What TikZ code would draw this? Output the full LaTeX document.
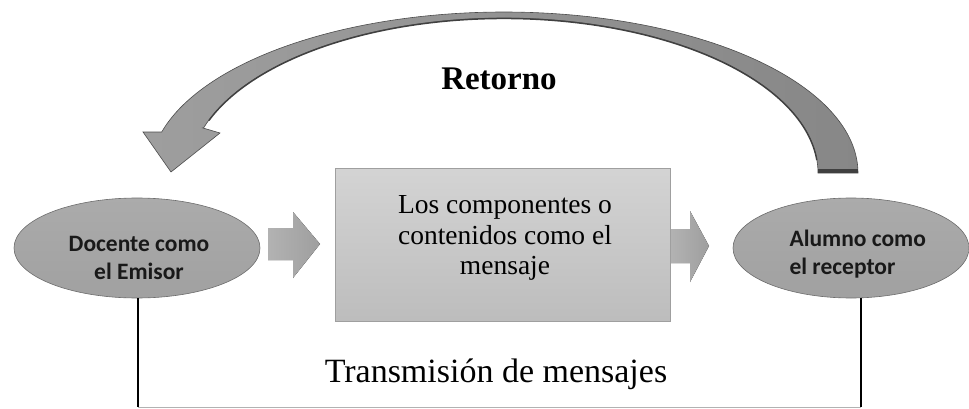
\documentclass[tikz,border=0pt]{standalone}
\usepackage{fontspec}
\setmainfont{Liberation Serif}
\newfontfamily\carlito{Carlito}
\usetikzlibrary{shapes.geometric,calc}
\begin{document}
\begin{tikzpicture}[x=1pt,y=-1pt,
  ellnode/.style={ellipse, draw=gray!85!black, line width=0.6pt, top color=gray!66, bottom color=gray!74, inner sep=0pt},
  ellfont/.style={font=\carlito\bfseries\fontsize{23.5}{28}\selectfont, text=black!90},
  msgbox/.style={rectangle, draw=gray!75, line width=0.8pt, top color=gray!34, bottom color=gray!52, inner sep=0pt},
  blockarrow/.style={left color=gray!60, right color=gray!76, draw=none},
  vline/.style={black, line width=2pt},
  hline/.style={gray!60, line width=1pt}
]
\useasboundingbox (0,0) rectangle (969,409);

% nodes
\node[ellnode, minimum width=246pt, minimum height=100pt] (emisor) at (137,248) {};
\node[ellfont, align=center] (emisorlbl) at (139,258) {Docente como\\el Emisor};
\node[ellnode, minimum width=236pt, minimum height=100pt] (receptor) at (851,248) {};
\node[ellfont, align=left, anchor=west] (receptorlbl) at (786,254) {Alumno como\\el receptor};
\node[msgbox, minimum width=335pt, minimum height=153pt] (msg) at (502.5,244.5) {};
\node[align=center, font=\fontsize{27.5}{30.5}\selectfont] (msglbl) at (505,238) {Los componentes o\\contenidos como el\\mensaje};

% block arrows
\fill[blockarrow] (268,228) -- (293,228) -- (293,212) -- (320,244) -- (293,278) -- (293,260) -- (268,260) -- cycle;
\fill[blockarrow] (671,229) -- (690,229) -- (690,211) -- (709,246) -- (690,282) -- (690,263) -- (671,263) -- cycle;

% curved return arrow
\path[left color=gray!76, right color=gray!94, draw=gray!60!black, line width=0.6pt]
  plot[domain=0:165.25, samples=90, smooth] ({504+354*cos(\x)},{173-161*sin(\x)})
  -- (143,132) -- (171,172) -- (220,133) -- (203,128)
  -- plot[domain=163.1:0, samples=90, smooth] ({504+314*cos(\x)},{173-155*sin(\x)})
  -- cycle;
\draw[gray!50!black, line width=1.4pt]
  plot[domain=160:5, samples=80, smooth] ({504+314*cos(\x)},{173.5-155*sin(\x)});
\fill[gray!50!black] (818,169) rectangle (858,173);

\node[font=\bfseries\fontsize{33}{38}\selectfont, anchor=base] (retorno) at (499,90) {Retorno};

% transmission lines
\coordinate (lb) at (138,407);
\coordinate (rb) at (861,407);
\draw[vline] (lb |- emisor.south) -- (lb);
\draw[vline] (rb |- receptor.south) -- (rb);
\draw[hline] (lb) -- (rb);
\node[font=\fontsize{34}{38}\selectfont, anchor=base] (trans) at (496,382) {Transmisión de mensajes};
\end{tikzpicture}
\end{document}
